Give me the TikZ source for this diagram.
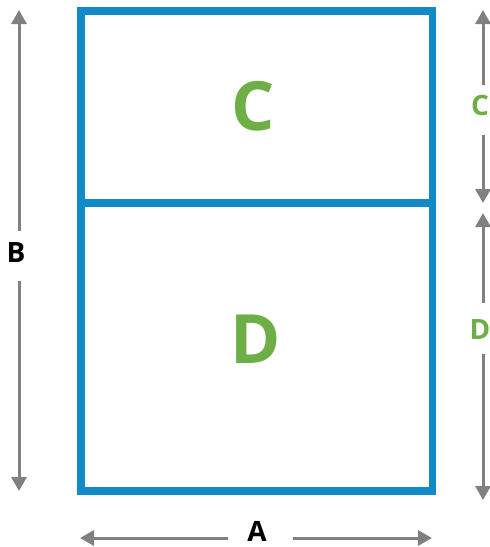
\documentclass[tikz,border=0pt]{standalone}
\usepackage{fontspec}
\setmainfont{Open Sans}
\usetikzlibrary{arrows.meta}
\definecolor{boxblue}{HTML}{118AC8}
\definecolor{lblgreen}{HTML}{6DAE47}
\definecolor{dimgray}{HTML}{808080}
\tikzset{
  box/.style={draw=boxblue, line width=7.5pt},
  dimline/.style={draw=dimgray, line width=3pt, -{Triangle[length=14pt,width=15pt]}},
  biglbl/.style={text=lblgreen, font=\bfseries\fontsize{68}{68}\selectfont, inner sep=0pt},
  smalllbl/.style={font=\bfseries\fontsize{28}{28}\selectfont, inner sep=0pt},
}
\begin{document}
\begin{tikzpicture}[x=1pt,y=-1pt]
\useasboundingbox (0,0) rectangle (490,547);
% box
\draw[box] (81,11) rectangle (432.5,491);
\draw[box] (81,203) -- (432.5,203);
\node[biglbl] (lc) at (253,106) {C};
\node[biglbl] (ld) at (256,339) {D};
% B dimension
\node[smalllbl] (lb) at (16,252) {B};
\coordinate (bt) at (19,10);
\coordinate (bb) at (19,491);
\draw[dimline] (19,231) -- (bt);
\draw[dimline] (19,281) -- (bb);
% A dimension
\node[smalllbl] (la) at (257,531.5) {A};
\coordinate (al) at (80,538);
\coordinate (ar) at (432,538);
\draw[dimline] (228,538) -- (al);
\draw[dimline] (293,538) -- (ar);
% C dimension
\node[smalllbl, text=lblgreen] (rc) at (480,105) {C};
\coordinate (ct) at (483,10);
\coordinate (cb) at (483,203);
\draw[dimline] (483,85) -- (ct);
\draw[dimline] (483,135) -- (cb);
% D dimension
\node[smalllbl, text=lblgreen] (rd) at (480,329) {D};
\coordinate (dt) at (483,213);
\coordinate (db) at (483,500);
\draw[dimline] (483,303) -- (dt);
\draw[dimline] (483,354) -- (db);
\end{tikzpicture}
\end{document}
